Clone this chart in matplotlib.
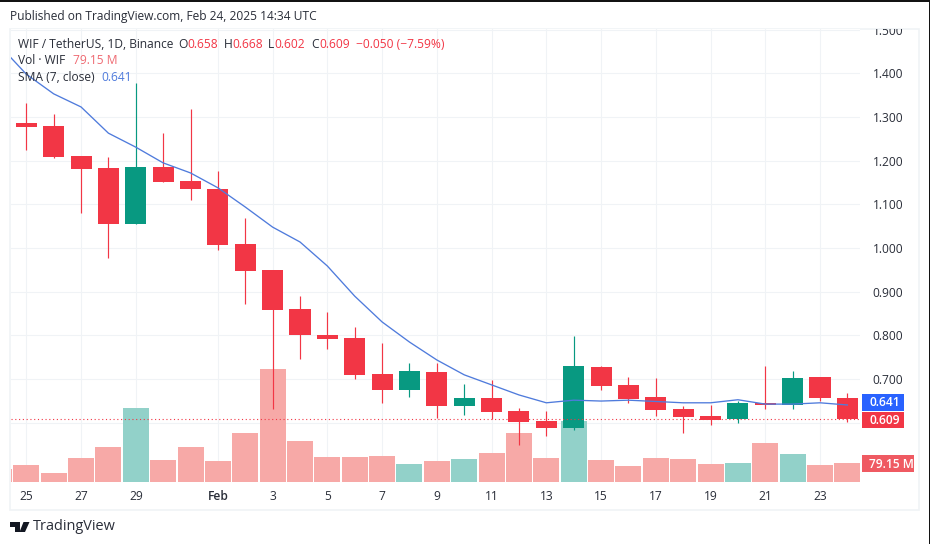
import matplotlib
matplotlib.use("Agg")
import matplotlib.pyplot as plt
from matplotlib.patches import Rectangle, Polygon, Circle
from matplotlib.transforms import Bbox

dates = ["Jan 25","Jan 26","Jan 27","Jan 28","Jan 29","Jan 30","Jan 31","Feb 1","Feb 2","Feb 3",
         "Feb 4","Feb 5","Feb 6","Feb 7","Feb 8","Feb 9","Feb 10","Feb 11","Feb 12","Feb 13",
         "Feb 14","Feb 15","Feb 16","Feb 17","Feb 18","Feb 19","Feb 20","Feb 21","Feb 22","Feb 23","Feb 24"]
opens  = [1.286,1.279,1.211,1.183,1.055,1.186,1.154,1.135,1.009,0.950,0.860,0.801,0.794,0.712,0.675,0.717,
          0.639,0.657,0.627,0.604,0.588,0.728,0.687,0.659,0.632,0.616,0.609,0.646,0.641,0.705,0.658]
highs  = [1.332,1.307,1.211,1.208,1.378,1.263,1.318,1.176,1.069,0.950,0.890,0.854,0.819,0.783,0.737,0.737,
          0.689,0.698,0.634,0.627,0.799,0.730,0.705,0.703,0.639,0.641,0.650,0.730,0.719,0.705,0.668]
lows   = [1.224,1.206,1.081,0.978,1.055,1.151,1.110,0.996,0.872,0.632,0.746,0.769,0.700,0.646,0.659,0.611,
          0.618,0.609,0.549,0.570,0.584,0.675,0.646,0.616,0.577,0.595,0.600,0.632,0.632,0.650,0.602]
closes = [1.277,1.209,1.181,1.055,1.186,1.151,1.135,1.007,0.948,0.858,0.801,0.792,0.710,0.675,0.719,0.639,
          0.657,0.625,0.602,0.588,0.730,0.684,0.655,0.630,0.614,0.607,0.646,0.641,0.703,0.657,0.609]
volumes = [71,37.5,100,146,308,92,146,87.5,204,471,171,104,104,108,75,87.5,96,121,204,100,254,92,67,100,96,75,79,162,117,71,79.15]
prev_volume = 54
sma_dates = list(range(-1, 31))
sma = [1.465,1.398,1.353,1.323,1.263,1.231,1.195,1.172,1.138,1.094,1.048,1.014,0.959,0.890,0.831,0.785,0.744,
       0.710,0.687,0.664,0.646,0.652,0.650,0.652,0.649,0.646,0.646,0.653,0.643,0.643,0.646,0.641]
tick_days = [0,2,4,7,9,11,13,15,17,19,21,23,25,27,29]
tick_labels = ["25","27","29","Feb","3","5","7","9","11","13","15","17","19","21","23"]
price_ticks = [0.6,0.7,0.8,0.9,1.0,1.1,1.2,1.3,1.4,1.5]
last_close = 0.609

W, H = 930, 544
RED, GREEN, BLUE = "#f23645", "#089981", "#2962ff"
TXT = "#2a2e39"
FONT = "Open Sans"
plt.rcParams["font.family"] = [FONT, "DejaVu Sans"]

fig = plt.figure(figsize=(W/100, H/100), dpi=100, facecolor="white")

def fx(x): return x / W
def fy(y): return 1 - y / H
def ftext(x, y, s, color=TXT, size=12, **kw):
    return fig.text(fx(x), fy(y), s, color=color, fontsize=size*0.72, va="center", **kw)
def frect(x0, y0, x1, y1, **kw):
    fig.add_artist(Rectangle((fx(x0), fy(y1)), (x1-x0)/W, (y1-y0)/H, transform=fig.transFigure, **kw))

# plot region in pixels
L, R, T, B = 10.5, 860, 29, 482
ax = fig.add_axes([fx(L), fy(B), (R-L)/W, (B-T)/H])
ax.set_xlim((L-26.3)/27.37, (R-26.3)/27.37)
ax.set_ylim(1.4-(B-73.3)/437, 1.4+(73.3-T)/437)
for s in ax.spines.values():
    s.set_visible(False)
ax.patch.set_alpha(0)
ax.set_zorder(3)

axv = fig.add_axes(ax.get_position(), sharex=ax)
axv.set_ylim(0, (B-T)*4.166)
axv.axis("off")
axv.set_zorder(2)

# grid
axg = fig.add_axes(ax.get_position(), sharex=ax)
axg.set_ylim(ax.get_ylim())
axg.set_zorder(1)
axg.set_xticks(tick_days); axg.set_yticks(price_ticks)
axg.tick_params(left=False, bottom=False, labelleft=False, labelbottom=False)
axg.grid(True, color="#f0f3f6", lw=0.8)
for s in axg.spines.values():
    s.set_visible(False)

# volume
vol_colors = ["#f7a9a7" if c < o else "#92d1c9" for o, c in zip(opens, closes)]
axv.bar(range(len(volumes)), volumes, width=0.95, color=vol_colors, linewidth=0)
axv.bar([-1], [prev_volume], width=0.95, color="#f7a9a7", linewidth=0)

# candles
for i, (o, h, l, c) in enumerate(zip(opens, highs, lows, closes)):
    col = RED if c < o else GREEN
    ax.vlines(i, l, h, color=col, lw=0.85, zorder=3)
    ax.bar(i, abs(o-c), bottom=min(o, c), width=0.77, color=col, linewidth=0, zorder=4)

ax.plot(sma_dates, sma, color="#4f7bdc", lw=0.95, zorder=5)
ax.axhline(last_close, color=RED, lw=0.8, ls=(0, (1, 2.4)), zorder=6)

# axes labels
ax.yaxis.tick_right()
ax.set_yticks(price_ticks)
ax.set_yticklabels([f"{p:.3f}" for p in price_ticks], fontsize=12*0.72, color=TXT)
ax.tick_params(axis="y", length=0, pad=9)
ax.set_xticks(tick_days)
ax.set_xticklabels(tick_labels, fontsize=12*0.72, color=TXT)
ax.tick_params(axis="x", length=0, pad=6)
for lab in ax.get_xticklabels():
    if lab.get_text() == "Feb":
        lab.set_fontweight("semibold")
clipbox = Bbox([[0, 0], [W, H - T]])
for lab, p in zip(ax.get_yticklabels(), price_ticks):
    if p == 1.5:
        lab.set_clip_on(True)
        lab.set_clip_box(clipbox)

# frame and outer bars
frect(10, 29, 919, 510, fill=False, edgecolor="#f0f3f6", lw=1.2, zorder=0)
frect(0, 0, W, 2.2, color="#131313", lw=0)
frect(929, 0, W, H, color="#131313", lw=0)

# header
ftext(10, 16.5, "Published on TradingView.com, Feb 24, 2025 14:34 UTC")
ftext(18, 44, "WIF / TetherUS, 1D, Binance")
for x, s, col in [(178,"O",TXT),(187,"0.658",RED),(224,"H",TXT),(232,"0.668",RED),(268,"L",TXT),
                  (274,"0.602",RED),(311,"C",TXT),(319,"0.609",RED),(356,"−0.050 (−7.59%)",RED)]:
    ftext(x, 44, s, color=col)
ftext(18, 60.5, "Vol · WIF")
ftext(73, 60.5, "79.15 M", color="#ef6a72")
ftext(18, 78, "SMA (7, close)")
ftext(101, 78, "0.641", color="#4f7bdc")

# last-value tags
frect(862, 394, 904, 411, color=BLUE, lw=0, zorder=7)
frect(862, 412, 904, 428, color=RED, lw=0, zorder=7)
frect(862, 455, 914, 472, color="#ef5a62", lw=0, zorder=7)
for y, s, x in [(402.5,"0.641",869),(420,"0.609",869),(464,"79.15 M",869)]:
    t = ftext(x, y, s, color="white", fontweight="semibold")
    t.set_zorder(8)

# footer logo
tv = "#131722"
fig.add_artist(Polygon([(fx(10),fy(522)),(fx(20),fy(522)),(fx(20),fy(532)),(fx(15),fy(532)),(fx(15),fy(526.5)),(fx(10),fy(526.5))],
                       closed=True, color=tv, lw=0, transform=fig.transFigure))
fig.add_artist(Polygon([(fx(23.5),fy(522)),(fx(29.5),fy(522)),(fx(25),fy(532)),(fx(19.5),fy(532))],
                       closed=True, color=tv, lw=0, transform=fig.transFigure))
ftext(33, 527, "TradingView", size=14.5, color="#2a2e39")

fig.savefig("out.png", dpi=100, facecolor="white")
